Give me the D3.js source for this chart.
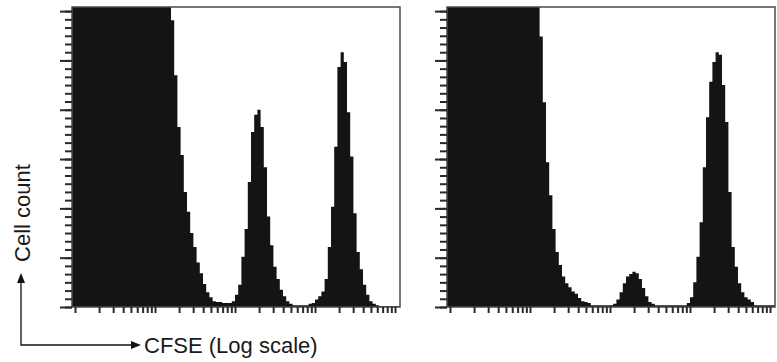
<!DOCTYPE html>
<html>
<head>
<meta charset="utf-8">
<script src="https://cdn.jsdelivr.net/npm/d3@7"></script>
<style>
  body { margin: 0; background: #fff; }
  text { font-family: "Liberation Sans", Arial, sans-serif; }
</style>
</head>
<body>
<div id="chart"></div>
<script>
// histogram channels: equal log10 bins
var binStart = -0.04;
var binStep = 0.04;

// left panel counts per channel (first population is off scale)
var leftCounts = [
  612, 640, 655, 670, 690, 700, 712, 705, 698, 690, 684, 676, 668, 660, 650, 642,
  630, 618, 606, 594, 580, 566, 552, 538, 522, 508, 492, 476, 460, 440, 410,
  349, 282, 219, 185, 140, 116, 90, 73, 54, 41, 28, 18, 12, 7, 6, 6, 5, 5, 5,
  7, 15, 27, 61, 95, 152, 213, 234, 240, 219, 170, 110, 75, 49, 34, 21, 13, 7, 4,
  2, 2, 2, 2, 2, 4, 5, 9, 13, 19, 34, 73, 122, 195, 292, 310, 298, 237, 183, 114,
  67, 46, 27, 15, 7, 4, 2, 1, 1, 1, 1, 1, 1, 1
];

// right panel counts per channel
var rightCounts = [
  605, 630, 648, 662, 680, 694, 702, 698, 690, 682, 675, 668, 660, 651, 642, 632,
  620, 608, 596, 582, 568, 552, 536, 520, 502, 484, 466, 444, 412,
  329, 249, 176, 136, 95, 67, 51, 37, 29, 24, 19, 16, 11, 7, 6, 5,
  2, 2, 2, 2, 2, 2, 2,
  4, 9, 18, 29, 37, 40, 43, 41, 34, 23, 13, 6, 4,
  2, 2, 2, 2, 2, 2, 2, 2, 2, 2,
  5, 12, 30, 61, 103, 170, 231, 274, 298, 310, 307, 270, 225, 140, 73, 49, 29, 18, 12, 9, 6,
  2, 2, 2, 2, 2, 2, 2
];

var decades = [1, 10, 100, 1000, 10000];
var yMax = 365;
var yMajorStep = 60;
var yMinorStep = 10;
var yLabel = "Cell count";
var xLabel = "CFSE (Log scale)";

var width = 777, height = 362;
var plotTop = 7, plotBottom = 307, panelW = 328;
var panels = [
  { counts: leftCounts, left: 72 },
  { counts: rightCounts, left: 447 }
];

var svg = d3.select("#chart")
  .append("svg")
  .attr("width", width)
  .attr("height", height);

var yScale = d3.scaleLinear().domain([0, yMax]).range([plotBottom, plotTop]).clamp(true);

// log ticks 1..9 x 10^k
var logTicks = [];
decades.forEach(function (d, i) {
  if (i === decades.length - 1) { logTicks.push(d); return; }
  for (var m = 1; m <= 9; m++) logTicks.push(m * d);
});

panels.forEach(function (p, k) {
  var xScale = d3.scaleLog()
    .domain([decades[0], decades[decades.length - 1]])
    .range([p.left + 3, p.left + 323]);

  var g = svg.append("g");

  g.append("clipPath")
    .attr("id", "clip" + k)
    .append("rect")
    .attr("x", p.left)
    .attr("y", plotTop)
    .attr("width", panelW)
    .attr("height", plotBottom - plotTop);

  // bins as step points, plus closing edge
  var bins = p.counts.map(function (c, i) {
    return { v: Math.pow(10, binStart + i * binStep), c: c };
  });
  bins.push({ v: Math.pow(10, binStart + p.counts.length * binStep), c: p.counts[p.counts.length - 1] });

  var area = d3.area()
    .x(function (d) { return xScale(d.v); })
    .y0(plotBottom)
    .y1(function (d) { return yScale(d.c); })
    .curve(d3.curveStepAfter);

  g.append("path")
    .datum(bins)
    .attr("clip-path", "url(#clip" + k + ")")
    .attr("d", area)
    .style("fill", "#141414");

  // frame
  g.append("rect")
    .attr("x", p.left)
    .attr("y", plotTop)
    .attr("width", panelW)
    .attr("height", plotBottom - plotTop)
    .style("fill", "none")
    .style("stroke", "#4a4a4a")
    .style("stroke-width", 1.5);

  // y axis: minor and major ticks
  var minorAxis = g.append("g")
    .attr("transform", "translate(" + p.left + ",0)")
    .call(d3.axisLeft(yScale).tickValues(d3.range(0, yMax, yMinorStep)).tickSize(7).tickFormat(""));
  var majorAxis = g.append("g")
    .attr("transform", "translate(" + p.left + ",0)")
    .call(d3.axisLeft(yScale).tickValues(d3.range(0, yMax, yMajorStep)).tickSize(12).tickFormat(""));

  // x axis: log ticks
  var xAxis = g.append("g")
    .attr("transform", "translate(0," + plotBottom + ")")
    .call(d3.axisBottom(xScale).tickValues(logTicks).tickSize(6).tickFormat(""));

  [minorAxis, majorAxis, xAxis].forEach(function (a) {
    a.select(".domain").remove();
    a.selectAll("line").style("stroke", "#2a2a2a").style("stroke-width", 2);
  });
});

// axis labels with L-shaped arrows
var ax = 21, ay = 345;
svg.append("path")
  .attr("d", "M" + ax + "," + (plotBottom - 27 + 1) + "V" + ay + "H" + 134)
  .style("fill", "none")
  .style("stroke", "#111")
  .style("stroke-width", 1.3);
svg.append("path")
  .attr("d", "M" + ax + "," + 273 + "l-4,10h8z")
  .style("fill", "#111");
svg.append("path")
  .attr("d", "M" + 141 + "," + ay + "l-10,-4v8z")
  .style("fill", "#111");

svg.append("text")
  .attr("transform", "translate(30,213) rotate(-90)")
  .attr("text-anchor", "middle")
  .style("font-size", "22px")
  .style("fill", "#1a1a1a")
  .text(yLabel);

svg.append("text")
  .attr("x", 144)
  .attr("y", ay + 8)
  .style("font-size", "22px")
  .style("fill", "#1a1a1a")
  .text(xLabel);
</script>
</body>
</html>
